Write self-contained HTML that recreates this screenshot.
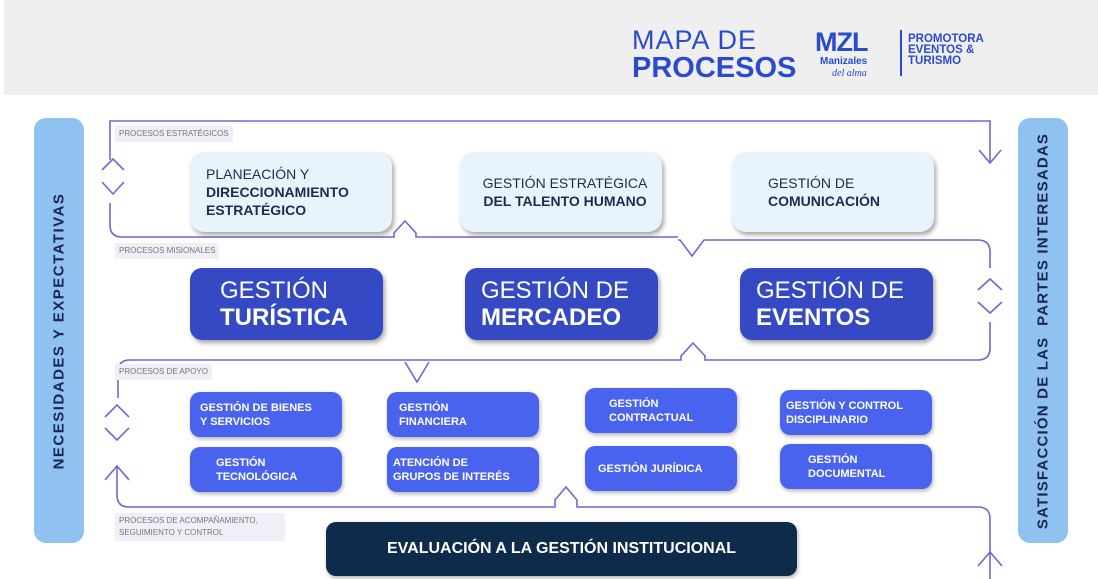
<!DOCTYPE html>
<html><head><meta charset="utf-8"><style>
body{margin:0;width:1098px;height:579px;background:#fff;position:relative;overflow:hidden;font-family:"Liberation Sans",sans-serif}
.a{position:absolute}
.hdr{left:4px;top:0;width:1094px;height:95px;background:#efefef}
.bar{background:#8fc1f1;border-radius:12px;width:50px;top:118px;height:425px}
.vt{position:absolute;left:50%;top:50%;transform:translate(-50%,-50%) rotate(-90deg);white-space:nowrap;font-weight:bold;font-size:15px;color:#1b2550;letter-spacing:1.5px}
.lbl{background:#f0eef8;color:#777;font-size:8px;padding:2px 4px;line-height:12px}
.sb{background:#e8f4fb;border-radius:14px;box-shadow:2px 3px 5px rgba(0,0,0,.35);color:#1f2a50;font-size:14px;line-height:18px;display:flex;flex-direction:column;justify-content:center;padding-left:16px;box-sizing:border-box;width:202px;height:80px;top:152px}
.mb{background:#3549c4;border-radius:12px;box-shadow:2px 3px 5px rgba(0,0,0,.35);color:#fff;font-size:24px;line-height:27px;display:flex;flex-direction:column;justify-content:center;padding-left:30px;box-sizing:border-box;width:193px;height:72px;top:268px}
.ab{background:#4a63ee;border-radius:10px;box-shadow:1px 2px 4px rgba(0,0,0,.3);color:#fff;font-weight:bold;font-size:11px;line-height:14px;display:flex;flex-direction:column;justify-content:center;padding-left:12px;box-sizing:border-box;width:152px;height:45px}
b{font-weight:bold}
</style></head><body>
<div class="a hdr"></div>
<div class="a" style="left:632px;top:26px;color:#2a4bd0;font-size:27px;line-height:28px;letter-spacing:1px">MAPA DE</div>
<div class="a" style="left:632px;top:53px;color:#2a4bd0;font-size:29px;font-weight:bold;line-height:30px">PROCESOS</div>
<div class="a" style="left:815px;top:28px;color:#2a4bd0;font-size:27px;font-weight:900;line-height:28px;letter-spacing:-1px">MZL</div>
<div class="a" style="left:820px;top:56px;color:#2a4bd0;font-size:10px;font-weight:bold">Manizales</div>
<div class="a" style="left:832px;top:68px;color:#2a4bd0;font-size:10px;font-style:italic;font-family:'Liberation Serif',serif">del alma</div>
<div class="a" style="left:900px;top:30px;width:2px;height:46px;background:#2a4bd0"></div>
<div class="a" style="left:908px;top:34px;color:#2a4bd0;font-size:11.5px;font-weight:bold;line-height:11px">PROMOTORA<br>EVENTOS &amp;<br>TURISMO</div>

<div class="a bar" style="left:34px"><div class="vt">NECESIDADES Y EXPECTATIVAS</div></div>
<div class="a bar" style="left:1018px"><div class="vt" style="letter-spacing:1.2px">SATISFACCIÓN DE LAS &nbsp;PARTES INTERESADAS</div></div>

<svg class="a" style="left:0;top:0" width="1098" height="579" fill="none" stroke="#6b68d6" stroke-width="1.6">
<path d="M110 160 V121 H990 V162"/><path d="M979 150 L990 163 L1001 150"/>
<path d="M102 170 L113 159 L124 170 M102 182 L113 194 L124 182"/>
<path d="M110 203 V225 Q110 237 122 237 H394 V233 L405 221 L416 233 V237 H678"/>
<path d="M678 240 L680 240 L692 256 L704 240 H978 Q990 240 990 252 V268"/>
<path d="M978 290 L990 279 L1002 290 M978 302 L990 313 L1002 302"/>
<path d="M990 322 V348 Q990 360 978 360 H705 V356 L693 343 L681 356 V360 H130 Q118 360 118 372 V398"/>
<path d="M405 362 L417 382 L429 362"/>
<path d="M105 417 L117 405 L129 417 M105 428 L117 440 L129 428"/>
<path d="M105 480 L117 466 L129 480 M117 467 V495 Q117 507 129 507 H555 V500 L566 487 L577 500 V507 H978 Q990 507 990 519 V579"/>
<path d="M978 566 L990 552 L1002 566"/>
</svg>

<div class="a lbl" style="left:115px;top:126px">PROCESOS ESTRATÉGICOS</div>
<div class="a lbl" style="left:115px;top:243px">PROCESOS MISIONALES</div>
<div class="a lbl" style="left:115px;top:364px">PROCESOS DE APOYO</div>
<div class="a lbl" style="left:115px;top:513px;width:162px">PROCESOS DE ACOMPAÑAMIENTO,<br>SEGUIMIENTO Y CONTROL</div>

<div class="a sb" style="left:190px">PLANEACIÓN Y<br><b>DIRECCIONAMIENTO<br>ESTRATÉGICO</b></div>
<div class="a sb" style="left:460px;padding-left:8px;align-items:center">GESTIÓN ESTRATÉGICA<br><b>DEL TALENTO HUMANO</b></div>
<div class="a sb" style="left:732px;padding-left:36px">GESTIÓN DE<br><b>COMUNICACIÓN</b></div>

<div class="a mb" style="left:190px">GESTIÓN<br><b>TURÍSTICA</b></div>
<div class="a mb" style="left:465px;padding-left:16px">GESTIÓN DE<br><b>MERCADEO</b></div>
<div class="a mb" style="left:740px;padding-left:16px">GESTIÓN DE<br><b>EVENTOS</b></div>

<div class="a ab" style="left:190px;top:392px;padding-left:10px">GESTIÓN DE BIENES<br>Y SERVICIOS</div>
<div class="a ab" style="left:190px;top:447px;padding-left:26px">GESTIÓN<br>TECNOLÓGICA</div>
<div class="a ab" style="left:387px;top:392px">GESTIÓN<br>FINANCIERA</div>
<div class="a ab" style="left:387px;top:447px;padding-left:6px">ATENCIÓN DE<br>GRUPOS DE INTERÉS</div>
<div class="a ab" style="left:585px;top:388px;padding-left:24px">GESTIÓN<br>CONTRACTUAL</div>
<div class="a ab" style="left:585px;top:446px;padding-left:13px">GESTIÓN JURÍDICA</div>
<div class="a ab" style="left:780px;top:390px;padding-left:6px">GESTIÓN Y CONTROL<br>DISCIPLINARIO</div>
<div class="a ab" style="left:780px;top:444px;padding-left:28px">GESTIÓN<br>DOCUMENTAL</div>

<div class="a" style="left:326px;top:522px;width:471px;height:54px;background:#0e2b4c;border-radius:10px;color:#fff;font-weight:bold;font-size:16px;display:flex;align-items:center;justify-content:center;box-shadow:1px 2px 4px rgba(0,0,0,.3)">EVALUACIÓN A LA GESTIÓN INSTITUCIONAL</div>
</body></html>
